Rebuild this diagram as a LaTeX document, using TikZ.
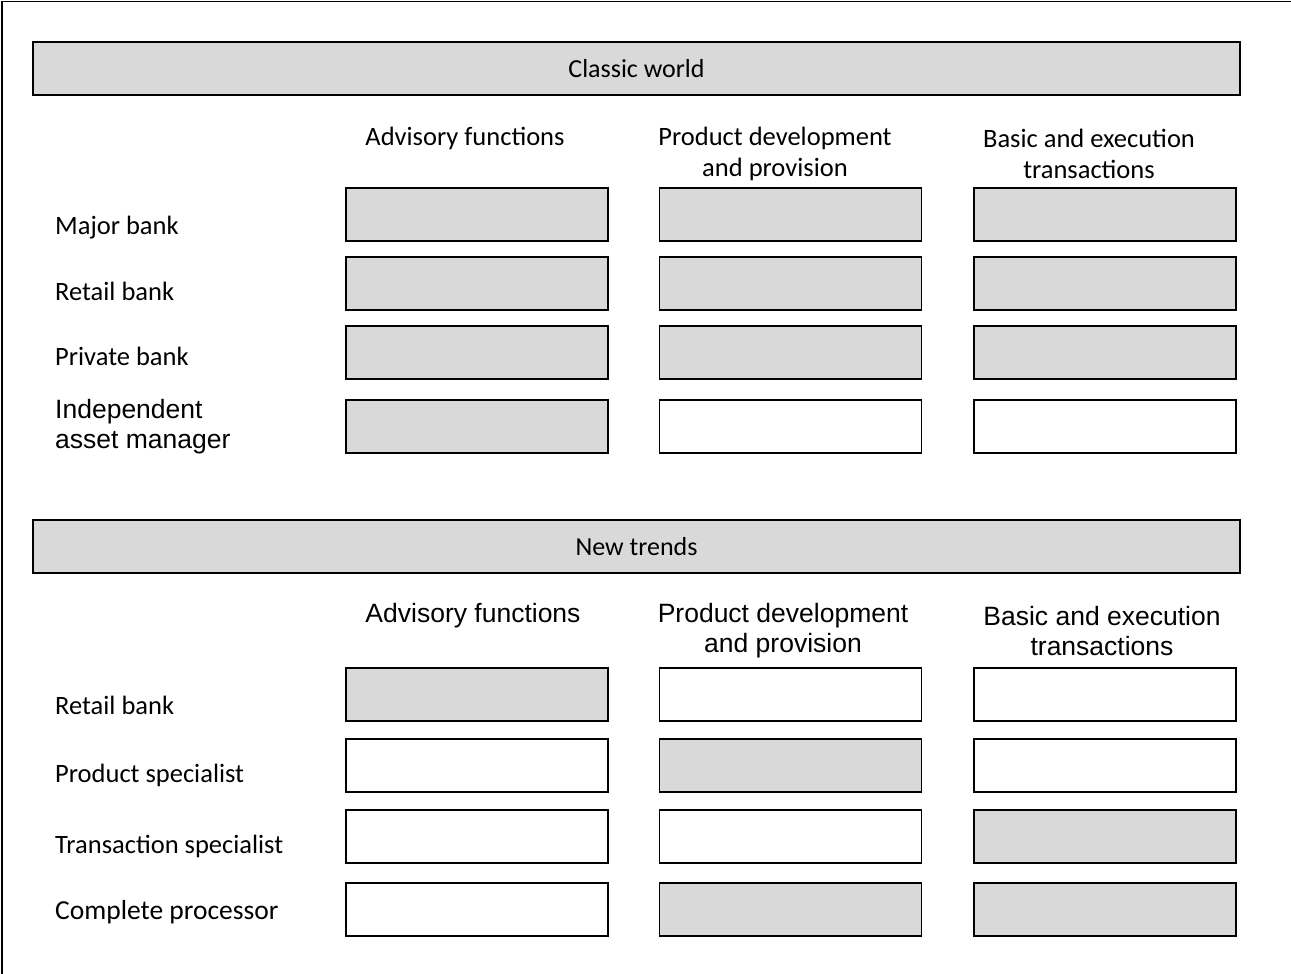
\documentclass[tikz,border=0pt]{standalone}
\usepackage{fontspec}
\setmainfont{Carlito}
\newfontfamily\arialfont{Liberation Sans}
\usetikzlibrary{positioning}
\definecolor{cellgray}{HTML}{D9D9D9}

\begin{document}
\begin{tikzpicture}[x=1pt, y=-1pt, every node/.style={font=\fontsize{26.5}{31}\selectfont, anchor=center},
	band/.style={draw, line width=1.6pt, fill=cellgray, minimum width=1207pt, minimum height=53pt, inner sep=0pt, font=\fontsize{26}{31}\selectfont},
	cell/.style={draw, line width=1.6pt, minimum width=262pt, minimum height=53pt, inner sep=0pt},
	rowlabel/.style={anchor=west, align=left, inner sep=0pt},
	colhead/.style={align=center, inner sep=0pt},
	arialtext/.style={font=\arialfont\fontsize{26.5}{30}\selectfont}]

	\useasboundingbox (0,0) rectangle (1291,974);

	% Rahmen (nur oben und links)
	\draw[line width=1.4pt] (2,974) -- (2,1.5) -- (1291,1.5);

	% Classic world
	\node[band] (classic) at (636.5,68.5) {Classic world};

	\node[colhead] (ch-1) at (465,138) {Advisory functions};
	\node[colhead] (ch-2) at (775,153.5) {Product development\\and provision};
	\node[colhead] (ch-3) at (1089,153.5) {Basic and execution\\transactions};

	\node[rowlabel] (cl-1) at (55,228) {Major bank};
	\node[rowlabel] (cl-2) at (55,291) {Retail bank};
	\node[rowlabel] (cl-3) at (55,356) {Private bank};
	\node[rowlabel, arialtext] (cl-4) at (55,427) {Independent\\asset manager};

	\foreach \r/\y/\fa/\fb/\fc in {1/214.5/cellgray/cellgray/cellgray,
		2/283.5/cellgray/cellgray/cellgray,
		3/352.5/cellgray/cellgray/cellgray,
		4/426.5/cellgray/white/white}{
		\node[cell, fill=\fa] (cc-\r-1) at (477,\y) {};
		\node[cell, fill=\fb] (cc-\r-2) at (790.5,\y) {};
		\node[cell, fill=\fc] (cc-\r-3) at (1105,\y) {};
	}

	% New trends
	\node[band] (trends) at (636.5,546.5) {New trends};

	\node[colhead, arialtext] (nh-1) at (473,616) {Advisory functions};
	\node[colhead, arialtext] (nh-2) at (783,631) {Product development\\and provision};
	\node[colhead, arialtext] (nh-3) at (1102,631) {Basic and execution\\transactions};

	\node[rowlabel] (nl-1) at (55,705) {Retail bank};
	\node[rowlabel] (nl-2) at (55,775) {Product specialist};
	\node[rowlabel] (nl-3) at (55,846) {Transaction specialist};
	\node[rowlabel, font=\fontsize{27.5}{31}\selectfont] (nl-4) at (55,912) {Complete processor};

	\foreach \r/\y/\fa/\fb/\fc in {1/694.5/cellgray/white/white,
		2/765.5/white/cellgray/white,
		3/836.5/white/white/cellgray,
		4/909.5/white/cellgray/cellgray}{
		\node[cell, fill=\fa] (nc-\r-1) at (477,\y) {};
		\node[cell, fill=\fb] (nc-\r-2) at (790.5,\y) {};
		\node[cell, fill=\fc] (nc-\r-3) at (1105,\y) {};
	}

\end{tikzpicture}
\end{document}
